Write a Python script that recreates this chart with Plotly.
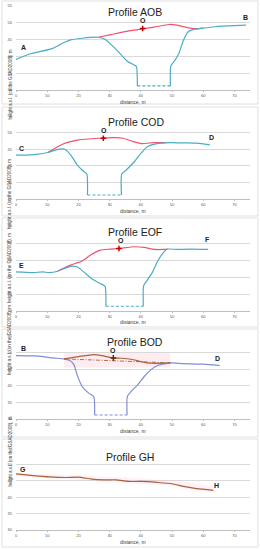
import plotly.graph_objects as go

W, H = 260, 550

# ---------------- DATA ----------------
# Profile AOB
aob_left_x = [0, 4.4, 7.6, 11.8, 14.9, 17.5, 21.2, 26.4, 28.5, 31.2, 33.8, 35.9, 38.0, 38.6, 38.9]
aob_left_y = [39.1, 40.7, 41.4, 42.4, 43.9, 44.9, 45.4, 45.7, 45.1, 42.9, 40.4, 38.4, 37.4, 37.0, 31.2]
aob_bot_x = [38.9, 49.5]
aob_bot_y = [31.2, 31.2]
aob_right_x = [49.5, 49.6, 50.6, 52.2, 53.7, 55.3, 57.4, 60.0, 64.2, 68.4, 73.7]
aob_right_y = [31.2, 37.1, 38.4, 40.9, 44.9, 47.4, 48.1, 48.4, 48.9, 49.1, 49.3]
aob_red_x = [26.4, 30.0, 35.0, 40.1, 44.3, 49.0, 51.6, 55.3, 57.9, 60.0]
aob_red_y = [45.7, 46.4, 47.4, 48.1, 48.7, 49.5, 49.3, 48.5, 48.2, 48.4]
aob_o = (40.6, 48.3)

# Profile COD
cod_left_x = [0, 3.4, 8.6, 10.2, 12.8, 14.9, 15.9, 17.5, 19.6, 21.7, 22.7, 22.9]
cod_left_y = [43.3, 43.2, 43.7, 44.0, 44.8, 45.1, 44.8, 43.3, 40.3, 38.3, 37.5, 31.2]
cod_bot_x = [22.9, 33.8]
cod_bot_y = [31.2, 31.2]
cod_right_x = [33.8, 33.9, 35.4, 38.0, 40.1, 42.2, 44.8, 49.5, 53.7, 57.9, 62.1]
cod_right_y = [31.2, 37.5, 38.8, 41.3, 43.8, 45.8, 46.6, 47.0, 46.9, 46.8, 46.3]
cod_red_x = [10.2, 14.9, 20.1, 26.4, 31.7, 34.3, 37.5, 40.1, 44.3, 48.0]
cod_red_y = [44.0, 46.5, 47.8, 48.3, 48.5, 48.3, 47.3, 46.7, 47.0, 47.0]
cod_o = (28.0, 48.3)

# Profile EOF
eof_left_x = [0, 5.5, 8.6, 10.7, 13.3, 16.0, 18.0, 19.6, 21.7, 24.3, 26.9, 28.5, 28.8]
eof_left_y = [41.5, 41.3, 41.5, 41.3, 41.7, 42.7, 43.2, 43.0, 41.5, 39.5, 38.1, 37.3, 31.4]
eof_bot_x = [28.8, 40.8]
eof_bot_y = [31.4, 31.4]
eof_right_x = [40.8, 40.9, 41.7, 43.8, 45.3, 47.4, 48.5, 51.6, 55.8, 61.6]
eof_right_y = [31.4, 37.4, 38.6, 41.5, 44.5, 47.4, 48.2, 48.1, 48.2, 48.1]
eof_red_x = [13.3, 17.5, 21.2, 23.8, 27.0, 30.1, 33.0, 38.0, 41.1, 44.3, 47.4, 48.5]
eof_red_y = [41.7, 43.5, 44.7, 46.4, 47.9, 48.2, 48.4, 48.9, 48.7, 48.1, 48.1, 48.2]
eof_o = (33.0, 48.4)

# Profile BOD
bod_left_x = [0, 5.5, 8.6, 11.8, 15.4, 17.5, 18.6, 19.6, 21.2, 23.3, 24.9, 25.2]
bod_left_y = [49.1, 49.0, 48.8, 48.4, 48.1, 47.5, 46.3, 43.3, 39.8, 37.8, 36.8, 31.2]
bod_bot_x = [25.2, 35.6]
bod_bot_y = [31.2, 31.2]
bod_right_x = [35.6, 35.7, 36.9, 39.0, 41.1, 43.2, 45.3, 48.0, 49.5, 53.7, 60.0, 65.3]
bod_right_y = [31.2, 36.8, 38.3, 40.3, 42.8, 44.8, 46.1, 46.7, 46.9, 46.7, 46.5, 46.1]
bod_brown_x = [15.4, 20.1, 24.9, 27.5, 31.0, 33.8, 36.9, 40.1, 43.2, 47.4, 49.5]
bod_brown_y = [48.1, 48.8, 49.4, 49.1, 48.4, 48.3, 48.0, 47.3, 46.8, 46.8, 46.9]
bod_chord_x = [15.4, 49.5]
bod_chord_y = [48.1, 46.9]
bod_band_x = [15.4, 49.5]
bod_band_y = [45.5, 50.2]
bod_o = (31.2, 48.4)

# Profile GH
gh_x = [0, 5.5, 10.7, 16.0, 20.1, 24.3, 28.5, 32.2, 35.9, 40.1, 45.3, 50.0, 53.7, 57.9, 63.2]
gh_y = [47.1, 46.6, 46.2, 46.0, 46.1, 45.5, 45.3, 45.3, 44.8, 44.8, 44.5, 44.1, 43.3, 42.6, 42.1]
gh_band_x = [0, 10, 20, 30, 40, 50, 55, 60, 64]
gh_band_hi = [47.6, 47.0, 46.7, 46.2, 45.7, 45.0, 44.6, 43.8, 43.2]
gh_band_lo = [46.5, 45.8, 45.3, 44.6, 44.0, 43.4, 42.5, 41.8, 41.4]

x_ticks = [0, 10, 20, 30, 40, 50, 60, 70]
y_ticks = [30, 35, 40, 45, 50, 55]

panels = [
    dict(title="Profile AOB", title_xy=(38.2, 53.2),
         labels=[("A", 2.3, 42.6), ("O", 40.8, 50.6), ("B", 73.7, 51.6)]),
    dict(title="Profile COD", title_xy=(38.3, 53.1),
         labels=[("C", 1.9, 45.3), ("O", 28.2, 50.7), ("D", 62.7, 48.6)]),
    dict(title="Profile EOF", title_xy=(38.0, 53.1),
         labels=[("E", 1.9, 43.3), ("O", 33.5, 50.7), ("F", 61.3, 51.0)]),
    dict(title="Profile BOD", title_xy=(38.2, 53.1),
         labels=[("B", 2.5, 51.1), ("O", 31.2, 50.5), ("D", 64.7, 48.3)]),
    dict(title="Profile GH", title_xy=(36.6, 52.4),
         labels=[("G", 2.3, 48.5), ("H", 64.4, 43.6)]),
]

# ---------------- LAYOUT GEOMETRY (pixels) ----------------
plot_left, plot_right = 16, 250
plot_px = [(6, 90), (116, 199), (226, 311), (336, 419), (448, 530)]
border_px = [(1, 104), (107, 216), (218, 327), (329, 437), (439, 547)]

BLUE = "#4bacc6"
BLUE2 = "#7f8fd6"
RED = "#f4506e"
BROWN = "#a8623a"
FONT = "Liberation Sans"

fig = go.Figure()

def py(p):
    return 1 - p / H

def axes_of(i):
    return ("x" if i == 0 else f"x{i+1}", "y" if i == 0 else f"y{i+1}")

def add_line(i, x, y, color, width=1.2):
    xa, ya = axes_of(i)
    fig.add_trace(go.Scatter(x=x, y=y, mode="lines",
                             line=dict(color=color, width=width, shape="spline", smoothing=0.6),
                             xaxis=xa, yaxis=ya, showlegend=False, hoverinfo="skip"))

def add_straight(i, x, y, color, dash="solid", width=1.2):
    xa, ya = axes_of(i)
    fig.add_trace(go.Scatter(x=x, y=y, mode="lines", line=dict(color=color, width=width, dash=dash),
                             xaxis=xa, yaxis=ya, showlegend=False, hoverinfo="skip"))

def add_marker(i, pt, color):
    xa, ya = axes_of(i)
    fig.add_trace(go.Scatter(x=[pt[0]], y=[pt[1]], mode="markers",
                             marker=dict(symbol="cross-thin", size=4, line=dict(color=color, width=1.5), color=color),
                             xaxis=xa, yaxis=ya, showlegend=False, hoverinfo="skip"))

# Panel 1 AOB
add_line(0, aob_red_x, aob_red_y, RED)
add_line(0, aob_left_x, aob_left_y, BLUE)
add_straight(0, aob_bot_x, aob_bot_y, BLUE, dash="3px,2px")
add_line(0, aob_right_x, aob_right_y, BLUE)
add_marker(0, aob_o, "#c00000")

# Panel 2 COD
add_line(1, cod_red_x, cod_red_y, RED)
add_line(1, cod_left_x, cod_left_y, BLUE)
add_straight(1, cod_bot_x, cod_bot_y, BLUE, dash="3px,2px")
add_line(1, cod_right_x, cod_right_y, BLUE)
add_marker(1, cod_o, "#c00000")

# Panel 3 EOF
add_line(2, eof_red_x, eof_red_y, RED)
add_line(2, eof_left_x, eof_left_y, BLUE)
add_straight(2, eof_bot_x, eof_bot_y, BLUE, dash="3px,2px")
add_line(2, eof_right_x, eof_right_y, BLUE)
add_marker(2, eof_o, "#c00000")

# Panel 4 BOD
fig.add_shape(type="rect", xref="x4", yref="y4", x0=bod_band_x[0], x1=bod_band_x[1],
              y0=bod_band_y[0], y1=bod_band_y[1], fillcolor="rgba(255,170,190,0.22)",
              line=dict(width=0), layer="below")
add_line(3, bod_left_x, bod_left_y, BLUE2)
add_straight(3, bod_bot_x, bod_bot_y, BLUE2, dash="3px,2px")
add_line(3, bod_right_x, bod_right_y, BLUE2)
add_line(3, bod_brown_x, bod_brown_y, BROWN)
add_straight(3, bod_chord_x, bod_chord_y, BROWN, dash="4px,1.5px,1px,1.5px", width=0.9)
add_marker(3, bod_o, "#5a2a10")

# Panel 5 GH
fig.add_trace(go.Scatter(x=gh_band_x, y=gh_band_hi, mode="lines", line=dict(width=0, shape="spline"),
                         xaxis="x5", yaxis="y5", showlegend=False, hoverinfo="skip"))
fig.add_trace(go.Scatter(x=gh_band_x, y=gh_band_lo, mode="lines", line=dict(width=0, shape="spline"),
                         fill="tonexty", fillcolor="rgba(255,180,200,0.18)",
                         xaxis="x5", yaxis="y5", showlegend=False, hoverinfo="skip"))
add_line(4, gh_x, gh_y, BROWN)

layout = dict(width=W, height=H, margin=dict(l=0, r=0, t=0, b=0, autoexpand=False),
              paper_bgcolor="white", plot_bgcolor="white", font=dict(family=FONT))
annotations = []
shapes = []
for i, p in enumerate(panels):
    top, bot = plot_px[i]
    sfx = "" if i == 0 else str(i + 1)
    layout[f"xaxis{sfx}"] = dict(domain=[plot_left / W, plot_right / W], range=[0, 75], automargin=False,
                                 anchor=f"y{sfx}", tickvals=x_ticks, tickfont=dict(size=4, color="#595959"),
                                 showgrid=False, zeroline=False, showline=True, linecolor="#bfbfbf",
                                 linewidth=0.8, ticks="outside", ticklen=1.5, tickcolor="#bfbfbf",
                                 ticklabelstandoff=0)
    layout[f"yaxis{sfx}"] = dict(domain=[py(bot), py(top)], range=[30, 55], automargin=False,
                                 anchor=f"x{sfx}", tickvals=y_ticks, tickfont=dict(size=4, color="#595959"),
                                 showgrid=True, gridcolor="#d9d9d9", gridwidth=0.8, zeroline=False,
                                 showline=False, ticks="", ticklabelstandoff=3)
    xr, yr = axes_of(i)
    annotations.append(dict(text=p["title"], x=p["title_xy"][0], y=p["title_xy"][1], xref=xr, yref=yr,
                            showarrow=False, font=dict(size=10.5, color="#222222", family=FONT)))
    for t, lx, ly in p["labels"]:
        annotations.append(dict(text=f"<b>{t}</b>", x=lx, y=ly, xref=xr, yref=yr, showarrow=False,
                                font=dict(size=7, color="#222222", family=FONT)))
    annotations.append(dict(text="distance, m", x=(plot_left + plot_right) / 2 / W, y=py(bot + 11.5),
                            xref="paper", yref="paper", showarrow=False, yanchor="middle",
                            font=dict(size=5, color="#404040", family=FONT)))
    annotations.append(dict(text="height a.s.l. (on the GSAD2008), m", x=5 / W, y=py((top + bot) / 2),
                            xref="paper", yref="paper", showarrow=False, textangle=-90,
                            font=dict(size=4.5, color="#404040", family=FONT)))
    b0, b1 = border_px[i]
    shapes.append(dict(type="rect", xref="paper", yref="paper", x0=2 / W, x1=258 / W, y0=py(b1), y1=py(b0),
                       line=dict(color="#d9d9d9", width=0.8), fillcolor="rgba(0,0,0,0)", layer="below"))

layout["annotations"] = annotations
fig.update_layout(**layout)
for s in shapes:
    fig.add_shape(**s)

fig.write_html("out.html", config={"displayModeBar": False},
               post_script="document.body.style.margin='0px';")
